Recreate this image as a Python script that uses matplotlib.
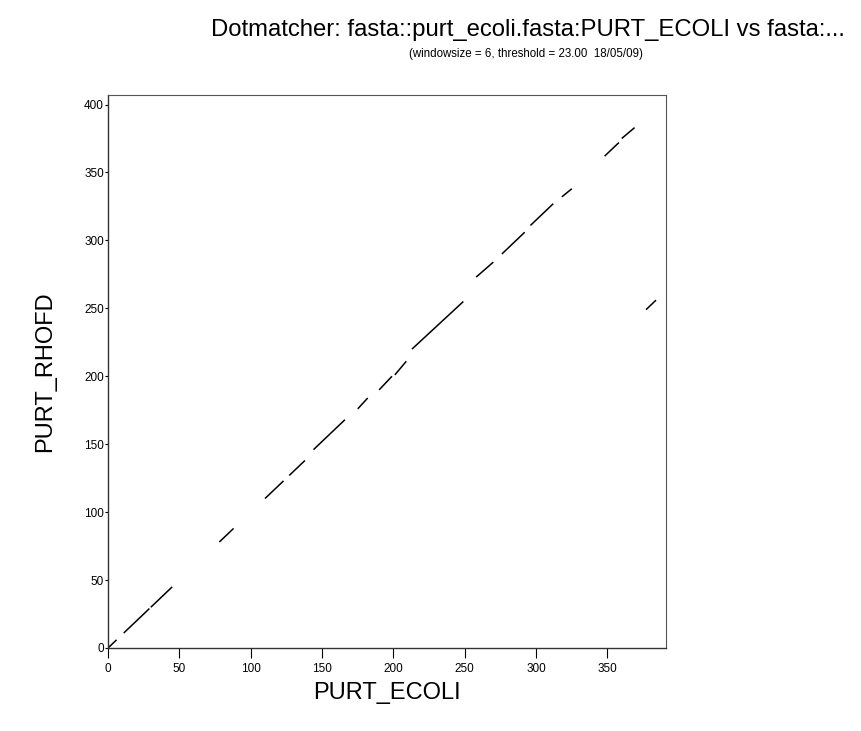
import matplotlib.pyplot as plt

plt.rcParams['font.family'] = ['Liberation Sans', 'DejaVu Sans']

# Match segments (start/end positions in each sequence)
ecoli_start = [0, 11, 30, 78, 110, 127, 144, 175, 190, 201, 213, 258, 276, 296, 318, 348, 360, 377]
ecoli_end = [6, 29, 45, 88, 123, 138, 166, 182, 199, 209, 249, 270, 292, 312, 325, 358, 369, 384]
rhofd_start = [0, 11, 30, 78, 110, 127, 146, 176, 190, 201, 220, 273, 290, 311, 332, 362, 375, 249]
rhofd_end = [6, 29, 45, 88, 123, 138, 168, 184, 200, 211, 255, 284, 306, 327, 338, 372, 383, 256]

len_ecoli = 391
len_rhofd = 407
xticks = [0, 50, 100, 150, 200, 250, 300, 350]
yticks = [0, 50, 100, 150, 200, 250, 300, 350, 400]

fig = plt.figure(figsize=(8.62, 7.31), dpi=100)
ax = fig.add_axes([108 / 862, 1 - 648 / 731, (666 - 108) / 862, (648 - 95) / 731])

for x0, x1, y0, y1 in zip(ecoli_start, ecoli_end, rhofd_start, rhofd_end):
    ax.plot([x0, x1], [y0, y1], color='black', lw=1.1, solid_capstyle='butt')

ax.set_xlim(0, len_ecoli)
ax.set_ylim(0, len_rhofd)
ax.set_xticks(xticks)
ax.set_yticks(yticks)
ax.tick_params(axis='x', direction='out', length=7, width=0.8, labelsize=8.5, pad=4)
ax.tick_params(axis='y', direction='out', length=2, width=0.8, labelsize=8.5, pad=1)

for side in ['left', 'bottom']:
    ax.spines[side].set_color('#333333')
    ax.spines[side].set_linewidth(1.0)
for side in ['top', 'right']:
    ax.spines[side].set_color('#555555')
    ax.spines[side].set_linewidth(0.8)
    ax.spines[side].set_linestyle((0, (1, 1)))

ax.set_xlabel('PURT_ECOLI', fontsize=17, labelpad=5)
ax.set_ylabel('PURT_RHOFD', fontsize=17, labelpad=20)

fig.text(528 / 862, 1 - 30 / 731, 'Dotmatcher: fasta::purt_ecoli.fasta:PURT_ECOLI vs fasta:...',
         ha='center', va='center', fontsize=17.2)
fig.text(526 / 862, 1 - 54 / 731, '(windowsize = 6, threshold = 23.00  18/05/09)',
         ha='center', va='center', fontsize=8.3)

fig.savefig('out.png', dpi=100)
